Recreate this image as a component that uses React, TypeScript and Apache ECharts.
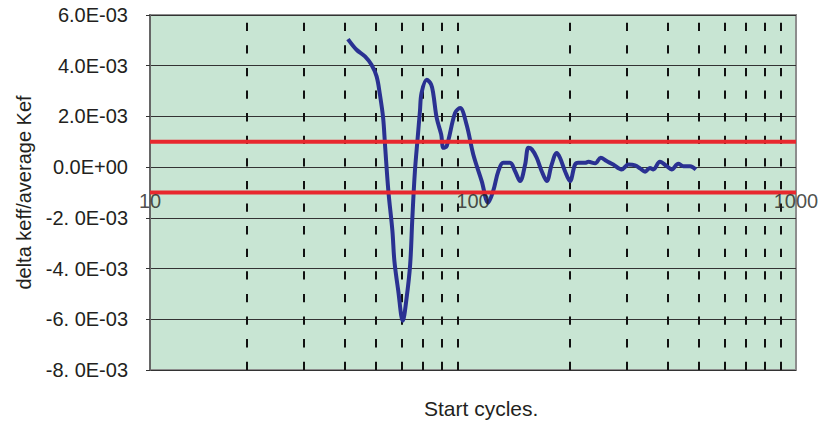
import React, { useEffect, useRef } from "react";
import * as echarts from "echarts";

// Start cycle (log scale) and relative deviation of keff from its average
const cycles = [
  41, 43.6, 46.3, 48.5, 50.3, 51.5, 52.7, 53.4, 54.7, 56.3, 57.1, 58.7, 60.6, 62.3, 63.9, 64.9,
  66.1, 67.4, 68.5, 69.3, 71.9, 74.2, 75.4, 77.2, 79.7, 81.0, 82.9, 88.0, 91.2, 95.5, 100.2,
  106.4, 111.4, 115.5, 119.8, 124.1, 130.2, 135.0, 139.9, 145.0, 148.4, 152.1, 157.5, 163.2,
  169.2, 175.2, 181.6, 185.9, 192.7, 199.6, 206.9, 211.7, 222.3, 227.6, 238.8, 248.5, 259.2,
  271.8, 288.4, 302.6, 317.5, 329, 341, 353, 361.6, 379, 398, 412, 432, 448, 470, 490,
];
const deltaKeff = [
  0.00505, 0.00463, 0.00437, 0.00404, 0.00358, 0.00286, 0.00194, 0.00089, -0.00094, -0.00252,
  -0.0037, -0.00488, -0.00606, -0.00515, -0.00383, -0.002, -0.00016, 0.00115, 0.0022, 0.00293,
  0.00345, 0.00326, 0.00286, 0.00194, 0.00129, 0.00076, 0.00083, 0.00214, 0.00233, 0.00168,
  0.0005, -0.00055, -0.0014, -0.00094, -0.00016, 0.00017, 0.00017, -0.00016, -0.00055, 0.0001,
  0.00076, 0.0007, 0.00037, -0.00016, -0.00055, 0.0001, 0.00056, 0.00037, -0.00016, -0.00055,
  0.0001, 0.00017, 0.00017, 0.00021, 0.00015, 0.00037, 0.00024, 0.0001, -0.00009, 0.0001,
  0.00007, -0.00005, -0.00018, -0.00003, -0.00009, 0.00021, 0.00004, -0.00009, 0.00013,
  0.00004, 0.00004, -0.00009,
];

// Convergence band limits
const limits = [0.001, -0.001];

// Intermediate cycle values marked with dashed vertical lines
const minorCycles = [20, 30, 40, 50, 60, 70, 80, 90, 200, 300, 400, 500, 600, 700, 800, 900];

// X-axis decade labels, drawn along the zero line
const xTickValues = [10, 100, 1000];

// Y-axis tick labels from -8E-03 up to 6E-03
const yTickLabels = [
  "-8. 0E-03",
  "-6. 0E-03",
  "-4. 0E-03",
  "-2. 0E-03",
  "0.0E+00",
  "2.0E-03",
  "4.0E-03",
  "6.0E-03",
];

const FONT = "Arial, 'Liberation Sans', sans-serif";
const TEXT = "#231f20";

export default function App() {
  const ref = useRef<HTMLDivElement>(null);

  useEffect(() => {
    if (!ref.current) return;
    const chart = echarts.init(ref.current, undefined, { renderer: "svg" });
    const lineData = cycles.map((c, i) => [c, deltaKeff[i]]);
    const xMin = xTickValues[0];
    const xMax = xTickValues[xTickValues.length - 1];

    chart.setOption({
      animation: false,
      textStyle: { fontFamily: FONT },
      grid: {
        left: 150,
        right: 23,
        top: 15,
        bottom: 53,
        show: true,
        backgroundColor: "#c8e5d3",
        borderColor: "#8d8d8d",
        borderWidth: 2,
      },
      xAxis: {
        type: "log",
        logBase: 10,
        min: xMin,
        max: xMax,
        axisLine: { show: false },
        axisTick: { show: false },
        splitLine: { show: false },
        axisLabel: { show: false },
      },
      yAxis: {
        type: "value",
        min: -0.008,
        max: 0.006,
        interval: 0.002,
        name: "delta keff/average Kef",
        nameLocation: "middle",
        nameGap: 116,
        nameRotate: 90,
        nameTextStyle: { fontSize: 20, color: TEXT, fontFamily: FONT },
        axisLine: { show: true, lineStyle: { color: "#666", width: 2 } },
        axisTick: { show: true, inside: false, length: 4, lineStyle: { color: "#333", width: 1 } },
        splitLine: { show: true, lineStyle: { color: "#333", width: 1 } },
        axisLabel: {
          margin: 22,
          fontSize: 20,
          color: TEXT,
          fontFamily: FONT,
          formatter: (v: number) => yTickLabels[Math.round(v / 0.002) + 4] ?? "",
        },
      },
      graphic: [
        {
          type: "text",
          left: 424,
          top: 398,
          style: {
            text: "Start cycles.",
            fontSize: 21,
            fontFamily: FONT,
            fill: TEXT,
          },
        },
      ],
      series: [
        {
          type: "line",
          data: [],
          silent: true,
          markLine: {
            z: 1,
            silent: true,
            symbol: "none",
            label: { show: false },
            lineStyle: { color: "#111", width: 2, type: [8.3, 14.3] },
            data: minorCycles.map((c) => ({ xAxis: c })),
          },
        },
        {
          type: "line",
          z: 3,
          data: lineData,
          smooth: 0.35,
          showSymbol: false,
          symbol: "none",
          lineStyle: { color: "#2a3192", width: 4 },
        },
        ...limits.map((v) => ({
          type: "line",
          z: 4,
          silent: true,
          symbol: "none",
          showSymbol: false,
          data: [
            [xMin, v],
            [xMax, v],
          ],
          lineStyle: { color: "#e8282e", width: 4 },
        })),
        {
          type: "scatter",
          z: 5,
          silent: true,
          symbolSize: 0,
          data: xTickValues.map((x) => [x, 0]),
          label: {
            show: true,
            position: "bottom",
            distance: 24,
            fontSize: 20,
            color: TEXT,
            fontFamily: FONT,
            formatter: (p: any) => String(p.value[0]),
          },
        },
      ],
    });

    return () => chart.dispose();
  }, []);

  return (
    <div
      ref={ref}
      style={{ position: "fixed", left: 0, top: 0, width: 819, height: 423, background: "#fff" }}
    />
  );
}
